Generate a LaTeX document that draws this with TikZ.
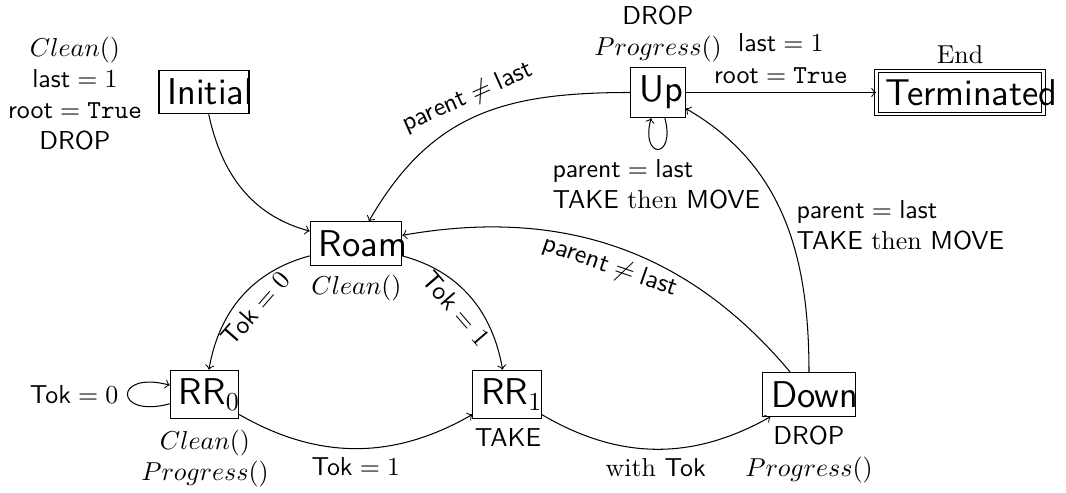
\documentclass[tikz,border=0pt]{standalone}
\usepackage{amsmath}
\begin{document}
\begin{tikzpicture}[x=0.3861pt,y=0.3861pt,
  stt/.style={draw, font=\Large\sffamily, inner sep=3.33pt},
  lbl/.style={inner sep=0pt, align=center},
  elbl/.style={inner sep=3.33pt, align=center}]
\useasboundingbox (0,0) rectangle (1066,493);
% states
\node[stt] (ini) at (204,493-92) {\makebox[28.1pt][l]{Initial}};
\node[stt] (up) at (658,493-92.5) {\makebox[14.4pt][l]{Up}};
\node[stt,double,double distance=0.8pt] (term) at (960,493-92.5) {\makebox[57.8pt][l]{Terminated}};
\node[stt] (roam) at (356,493-243.5) {\makebox[28.7pt][l]{Roam}};
\node[stt] (rr0) at (204.5,493-394.5) {\makebox[19.8pt][l]{RR$_0$}};
\node[stt] (rr1) at (507,493-394.5) {\makebox[19.7pt][l]{RR$_1$}};
\node[stt] (down) at (809,493-394.5) {\makebox[29.2pt][l]{Down}};
% state annotations
\node[lbl] (iniL) at (75,493-93.5) {$Clean()$\\$\textsf{last}=1$\\$\textsf{root}=\texttt{True}$\\\textsf{DROP}};
\node[lbl] (upL) at (658,493-34) {\textsf{DROP}\\$Progress()$};
\node[lbl] (termL) at (960,493-54.5) {End};
\node[lbl] (roamL) at (356.5,493-288.5) {$Clean()$};
\node[lbl] (rr0L) at (205,493-458.5) {$Clean()$\\$Progress()$};
\node[lbl] (rr1L) at (508,493-437.5) {\textsf{TAKE}};
\node[lbl] (downL) at (809,493-454.5) {\textsf{DROP}\\$Progress()$};
\node[lbl,anchor=west,align=left] (upLoopL) at (552,493-184) {$\textsf{parent}=\textsf{last}$\\\textsf{TAKE} then \textsf{MOVE}};
\node[lbl,anchor=west,align=left] (duL) at (796,493-225.5) {$\textsf{parent}=\textsf{last}$\\\textsf{TAKE} then \textsf{MOVE}};
% transitions
\draw[->] (ini) to[out=-78,in=165] (roam);
\draw[->] (up) to[out=180,in=60,looseness=1.1] node[elbl,sloped,above,pos=0.5]{$\textsf{parent}\neq\textsf{last}$} (roam);
\draw[->] (up) -- node[elbl,above]{$\textsf{last}=1$\\$\textsf{root}=\texttt{True}$} (term);
\draw[->] (up) to[loop below] (up);
\draw[->] (rr0) to[loop left] node[elbl,left]{$\textsf{Tok}=0$} (rr0);
\draw[->] (roam) to[out=195,in=80] node[elbl,sloped,below]{$\textsf{Tok}=0$} (rr0);
\draw[->] (roam) to[out=-15,in=100] node[elbl,sloped,below]{$\textsf{Tok}=1$} (rr1);
\draw[->] (rr0) to[bend right=30] node[elbl,below]{$\textsf{Tok}=1$} (rr1);
\draw[->] (rr1) to[bend right=30] node[elbl,below]{with \textsf{Tok}} (down);
\draw[->] (down) to[out=130,in=10] node[elbl,sloped,below]{$\textsf{parent}\neq\textsf{last}$} (roam);
\draw[->] (down) to[out=90,in=-30] (up);
\end{tikzpicture}
\end{document}
